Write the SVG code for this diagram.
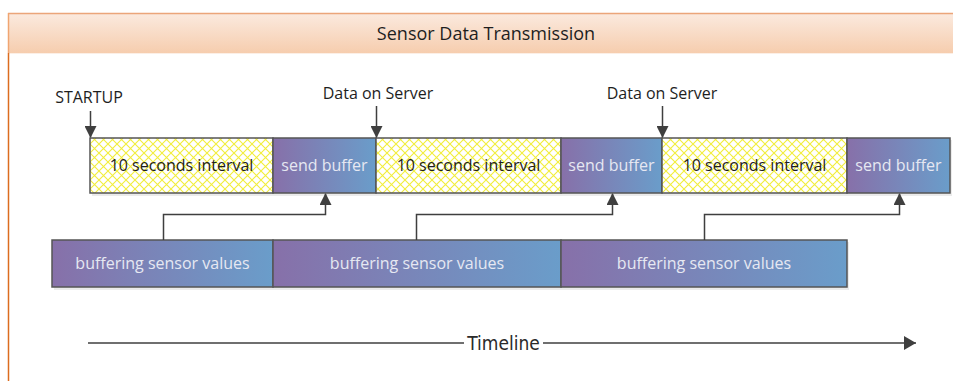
<svg xmlns="http://www.w3.org/2000/svg" width="953" height="381" viewBox="0 0 953 381">
<defs>
  <linearGradient id="hdr" x1="0" y1="0" x2="0" y2="1">
    <stop offset="0" stop-color="#fbeadf"/>
    <stop offset="1" stop-color="#f6cdae"/>
  </linearGradient>
  <linearGradient id="pb" x1="0" y1="0" x2="1" y2="0">
    <stop offset="0" stop-color="#8770a9"/>
    <stop offset="1" stop-color="#6a9dca"/>
  </linearGradient>
  <pattern id="hatch" width="9" height="9" patternUnits="userSpaceOnUse">
    <rect width="9" height="9" fill="#ffffff"/>
    <path d="M0,0 L9,9 M9,0 L0,9" stroke="#f2ee3a" stroke-width="1.1"/>
  </pattern>
  <marker id="ah" viewBox="0 0 12 12" refX="11" refY="6" markerWidth="12" markerHeight="12" markerUnits="userSpaceOnUse" orient="auto">
    <path d="M0,0 L12,6 L0,12 Z" fill="#3f3f3f"/>
  </marker>
  <marker id="ahbig" viewBox="0 0 12 14" refX="12" refY="7" markerWidth="12" markerHeight="14" markerUnits="userSpaceOnUse" orient="auto">
    <path d="M0,0 L12,7 L0,14 Z" fill="#3f3f3f"/>
  </marker>
</defs>
<style>
  .t{font-family:"Open Sans","DejaVu Sans",sans-serif;font-size:16px;text-anchor:middle}
  .dark{fill:#1e1e1e}
  .light{fill:#e6e8f2}
  .box{stroke:#555555;stroke-width:1.5}
  .shadow{fill:#000000;opacity:0.08}
  .conn{fill:none;stroke:#3f3f3f;stroke-width:1.5}
</style>
<rect width="953" height="381" fill="#ffffff"/>

<g id="frame">
  <rect x="8" y="13" width="950" height="40" fill="url(#hdr)"/>
  <line x1="8" y1="13.5" x2="953" y2="13.5" stroke="#eba57a" stroke-width="1.5"/>
  <line x1="8" y1="53.5" x2="953" y2="53.5" stroke="#fcefe6" stroke-width="1"/>
  <line x1="8.5" y1="13" x2="8.5" y2="53" stroke="#f0a571" stroke-width="1.5"/>
  <line x1="8.5" y1="53" x2="8.5" y2="381" stroke="#dc6c1f" stroke-width="1.5"/>
  <text class="t dark" x="486" y="40" style="font-size:18px">Sensor Data Transmission</text>
</g>

<g id="labels">
  <text class="t dark" x="89" y="103">STARTUP</text>
  <text class="t dark" x="378" y="99">Data on Server</text>
  <text class="t dark" x="662" y="99">Data on Server</text>
</g>

<g id="shadows">
  <rect class="shadow" x="92" y="140" width="860" height="56"/>
  <rect class="shadow" x="54" y="242" width="795" height="48"/>
</g>

<g id="interval1"><rect class="box" x="90" y="138" width="183" height="55" fill="url(#hatch)"/><text class="t dark" x="181.5" y="171">10 seconds interval</text></g>
<g id="send1"><rect class="box" x="273" y="138" width="103" height="55" fill="url(#pb)"/><text class="t light" x="324.5" y="171">send buffer</text></g>
<g id="interval2"><rect class="box" x="376" y="138" width="185" height="55" fill="url(#hatch)"/><text class="t dark" x="468.5" y="171">10 seconds interval</text></g>
<g id="send2"><rect class="box" x="561" y="138" width="101" height="55" fill="url(#pb)"/><text class="t light" x="611.5" y="171">send buffer</text></g>
<g id="interval3"><rect class="box" x="662" y="138" width="185" height="55" fill="url(#hatch)"/><text class="t dark" x="754.5" y="171">10 seconds interval</text></g>
<g id="send3"><rect class="box" x="847" y="138" width="103" height="55" fill="url(#pb)"/><text class="t light" x="898.5" y="171">send buffer</text></g>

<g id="buffer1"><rect class="box" x="52" y="240" width="221" height="47" fill="url(#pb)"/><text class="t light" x="162.5" y="269">buffering sensor values</text></g>
<g id="buffer2"><rect class="box" x="273" y="240" width="288" height="47" fill="url(#pb)"/><text class="t light" x="417" y="269">buffering sensor values</text></g>
<g id="buffer3"><rect class="box" x="561" y="240" width="286" height="47" fill="url(#pb)"/><text class="t light" x="704" y="269">buffering sensor values</text></g>

<g id="connectors">
  <path class="conn" d="M90.5,111 V137" marker-end="url(#ah)"/>
  <path class="conn" d="M376.5,106 V137" marker-end="url(#ah)"/>
  <path class="conn" d="M662.5,106 V137" marker-end="url(#ah)"/>
  <path class="conn" d="M163.5,240 V214.5 H325.5 V194" marker-end="url(#ah)"/>
  <path class="conn" d="M416.5,240 V214.5 H612.5 V194" marker-end="url(#ah)"/>
  <path class="conn" d="M704.5,240 V214.5 H899.5 V194" marker-end="url(#ah)"/>
</g>

<g id="timeline">
  <line class="conn" x1="88" y1="343" x2="464" y2="343"/>
  <path class="conn" d="M543,343 H916" marker-end="url(#ahbig)"/>
  <text x="503.5" y="350" text-anchor="middle" font-family="DejaVu Sans Condensed, DejaVu Sans, sans-serif" font-stretch="condensed" font-size="19" fill="#2a2a2a">Timeline</text>
</g>
</svg>
